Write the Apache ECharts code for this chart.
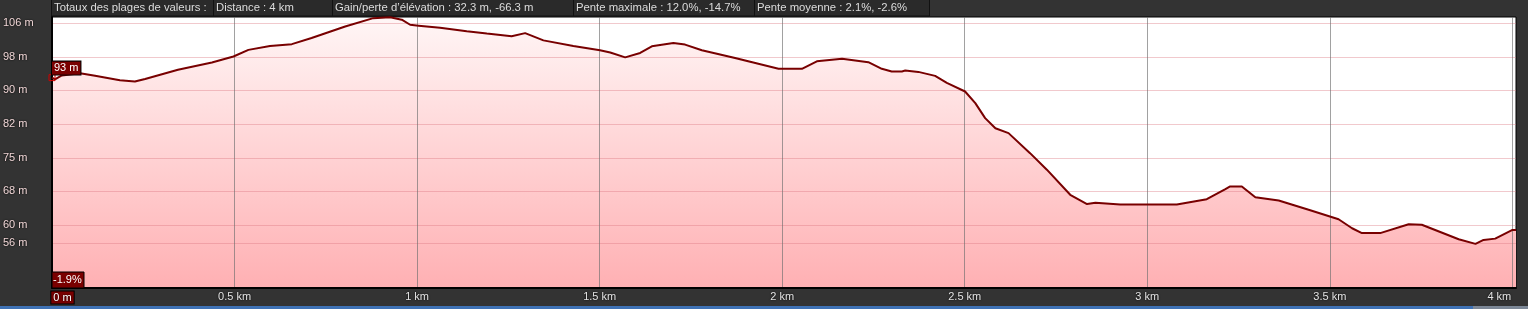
<!DOCTYPE html>
<html>
<head>
<meta charset="utf-8">
<script src="https://cdn.jsdelivr.net/npm/echarts@6/dist/echarts.min.js"></script>
<style>
html,body{margin:0;padding:0;background:#333;}
#c{width:1528px;height:309px;}
</style>
</head>
<body>
<div id="c"></div>
<script>
// ---- data ----
const distanceKm = [0, 0.008, 0.027, 0.077, 0.118, 0.186, 0.227, 0.255, 0.345, 0.438, 0.497, 0.538, 0.597, 0.657, 0.711, 0.803, 0.880, 0.926, 0.958, 0.981, 1.004, 1.063, 1.136, 1.191, 1.259, 1.296, 1.346, 1.428, 1.501, 1.529, 1.570, 1.611, 1.643, 1.702, 1.734, 1.780, 1.871, 1.990, 2.054, 2.095, 2.164, 2.236, 2.273, 2.300, 2.328, 2.337, 2.373, 2.419, 2.451, 2.501, 2.529, 2.556, 2.584, 2.620, 2.679, 2.725, 2.789, 2.835, 2.858, 2.926, 3.081, 3.163, 3.214, 3.227, 3.259, 3.296, 3.360, 3.442, 3.524, 3.561, 3.588, 3.638, 3.716, 3.752, 3.853, 3.899, 3.921, 3.953, 3.999, 4.010];
const elevationM = [93.6, 93.2, 94.1, 94.6, 94.0, 93.0, 92.7, 93.3, 95.4, 97.05, 98.4, 99.9, 100.8, 101.2, 102.6, 105.2, 107.1, 107.3, 106.75, 105.6, 105.4, 104.9, 104.1, 103.6, 103.0, 103.7, 102.05, 100.8, 99.8, 99.3, 98.2, 99.2, 100.7, 101.45, 101.1, 99.8, 98.05, 95.6, 95.6, 97.3, 97.9, 97.1, 95.6, 95.0, 95.0, 95.2, 94.9, 94.0, 92.4, 90.45, 87.8, 84.4, 82.1, 81.0, 76.45, 72.7, 67.0, 64.9, 65.2, 64.8, 64.8, 66.0, 68.3, 68.9, 68.9, 66.45, 65.7, 63.6, 61.45, 59.4, 58.3, 58.3, 60.3, 60.2, 56.9, 55.85, 56.75, 57.05, 59.0, 59.0];
const xTickValues = [0, 0.5, 1, 1.5, 2, 2.5, 3, 3.5, 4];
const xTickLabels = ['0 m', '0.5 km', '1 km', '1.5 km', '2 km', '2.5 km', '3 km', '3.5 km', '4 km'];
const yTickValues = [106.0, 98.23, 90.73, 83.0, 75.39, 67.77, 60.16, 56.0];
const yTickLabels = ['106 m', '98 m', '90 m', '82 m', '75 m', '68 m', '60 m', '56 m'];
const headerLabels = ['Totaux des plages de valeurs :', 'Distance : 4 km', 'Gain/perte d\u2019élévation : 32.3 m, -66.3 m', 'Pente maximale : 12.0%, -14.7%', 'Pente moyenne : 2.1%, -2.6%'];
const startLabel = '93 m';
const slopeLabel = '-1.9%';

// ---- layout ----
const FONT = 'Liberation Sans, Arial, sans-serif';
const headerBoxes = [[51, 213], [213, 332], [332, 573], [573, 754], [754, 929]];
const chart = echarts.init(document.getElementById('c'), null, {renderer: 'canvas'});

const graphics = [];
headerLabels.forEach((t, i) => {
  const b = headerBoxes[i];
  graphics.push({type: 'rect', shape: {x: b[0] + 0.5, y: -1, width: b[1] - b[0], height: 17},
    style: {fill: '#2a2a2a', stroke: '#111', lineWidth: 1}, silent: true});
  graphics.push({type: 'text', x: b[0] + 3, y: 2,
    style: {text: t, fill: '#dcdcdc', font: '11.3px ' + FONT}, silent: true});
});
graphics.push({type: 'rect', shape: {x: 52, y: 272, width: 32, height: 16},
  style: {fill: '#7a0000', stroke: '#000', lineWidth: 1}, z: 100, silent: true});
graphics.push({type: 'text', x: 53, y: 274, z: 101,
  style: {text: slopeLabel, fill: '#fff', font: '11px ' + FONT}, silent: true});
graphics.push({type: 'rect', shape: {x: 0, y: 306, width: 1473, height: 3}, style: {fill: '#3f72b5'}, silent: true});
graphics.push({type: 'rect', shape: {x: 1473, y: 306, width: 55, height: 3}, style: {fill: '#7c8796'}, silent: true});

function xLabel(v) {
  const i = xTickValues.findIndex(t => Math.abs(t - v) < 1e-9);
  if (i < 0) return '';
  if (i === 0) return '{sp|}{first|' + xTickLabels[i] + '}';
  if (i === xTickValues.length - 1) return '{last|' + xTickLabels[i] + '}';
  return xTickLabels[i];
}
function yLabel(v) {
  const i = yTickValues.findIndex(t => Math.abs(t - v) < 1e-6);
  return i < 0 ? '' : yTickLabels[i];
}

const points = distanceKm.map((d, i) => [d, elevationM[i]]);

const option = {
  backgroundColor: '#333',
  animation: false,
  grid: {left: 52, top: 17, right: 12, bottom: 21, show: true, backgroundColor: '#fff', borderColor: '#000', borderWidth: 1},
  xAxis: {
    type: 'value', min: 0, max: 4.01, z: 2,
    axisLine: {show: true, lineStyle: {color: '#000', width: 2}},
    axisTick: {show: false, customValues: xTickValues},
    splitLine: {show: true, lineStyle: {color: 'rgba(110,110,110,0.65)', width: 1}},
    axisLabel: {
      customValues: xTickValues, formatter: xLabel, margin: 3,
      color: '#e4e4e4', fontFamily: FONT, fontSize: 11,
      textShadowColor: '#000', textShadowBlur: 2,
      rich: {
        sp: {width: 21, height: 13},
        first: {color: '#fff', backgroundColor: '#7a0000', borderColor: '#000', borderWidth: 1, padding: [1, 2, 0, 2], fontFamily: FONT, fontSize: 11, textShadowBlur: 0},
        last: {padding: [0, 26, 0, 0], color: '#e4e4e4', fontFamily: FONT, fontSize: 11}
      }
    }
  },
  yAxis: {
    type: 'value', min: 45.84, max: 107.36, z: 2,
    axisLine: {show: true, lineStyle: {color: '#000', width: 2}},
    axisTick: {show: false, customValues: yTickValues},
    splitLine: {show: true, lineStyle: {color: 'rgba(220,120,130,0.4)', width: 1}},
    axisLabel: {
      customValues: yTickValues, formatter: yLabel, align: 'left', margin: 49,
      padding: [6, 0, 0, 0],
      color: '#f0d6d6', fontFamily: FONT, fontSize: 11,
      textShadowColor: '#000', textShadowBlur: 2
    }
  },
  series: [{
    type: 'line', z: 1,
    data: points,
    showSymbol: false, symbol: 'none', smooth: false,
    lineStyle: {width: 0, opacity: 0},
    areaStyle: {
      color: {type: 'linear', x: 0, y: 17, x2: 0, y2: 288, global: true,
        colorStops: [{offset: 0, color: '#fff6f6'}, {offset: 1, color: '#ffb0b3'}]},
      opacity: 1
    }
  }, {
    type: 'line', z: 3,
    data: points,
    showSymbol: false, symbol: 'none', smooth: false,
    lineStyle: {color: '#780000', width: 2},
    markPoint: {
      silent: true,
      data: [
        {coord: [distanceKm[0], elevationM[0]], symbol: 'rect', symbolSize: 6,
          itemStyle: {color: 'rgba(0,0,0,0)', borderColor: '#d00000', borderWidth: 1},
          label: {show: false}},
        {coord: [distanceKm[0], elevationM[0]], symbol: 'rect', symbolSize: 0,
          label: {show: true, formatter: startLabel, position: [0, -16], color: '#fff',
            backgroundColor: '#7a0000', borderColor: '#000', borderWidth: 1,
            padding: [1, 2, 1, 2], fontFamily: FONT, fontSize: 11}}
      ]
    }
  }],
  graphic: graphics
};
chart.setOption(option);
</script>
</body>
</html>
